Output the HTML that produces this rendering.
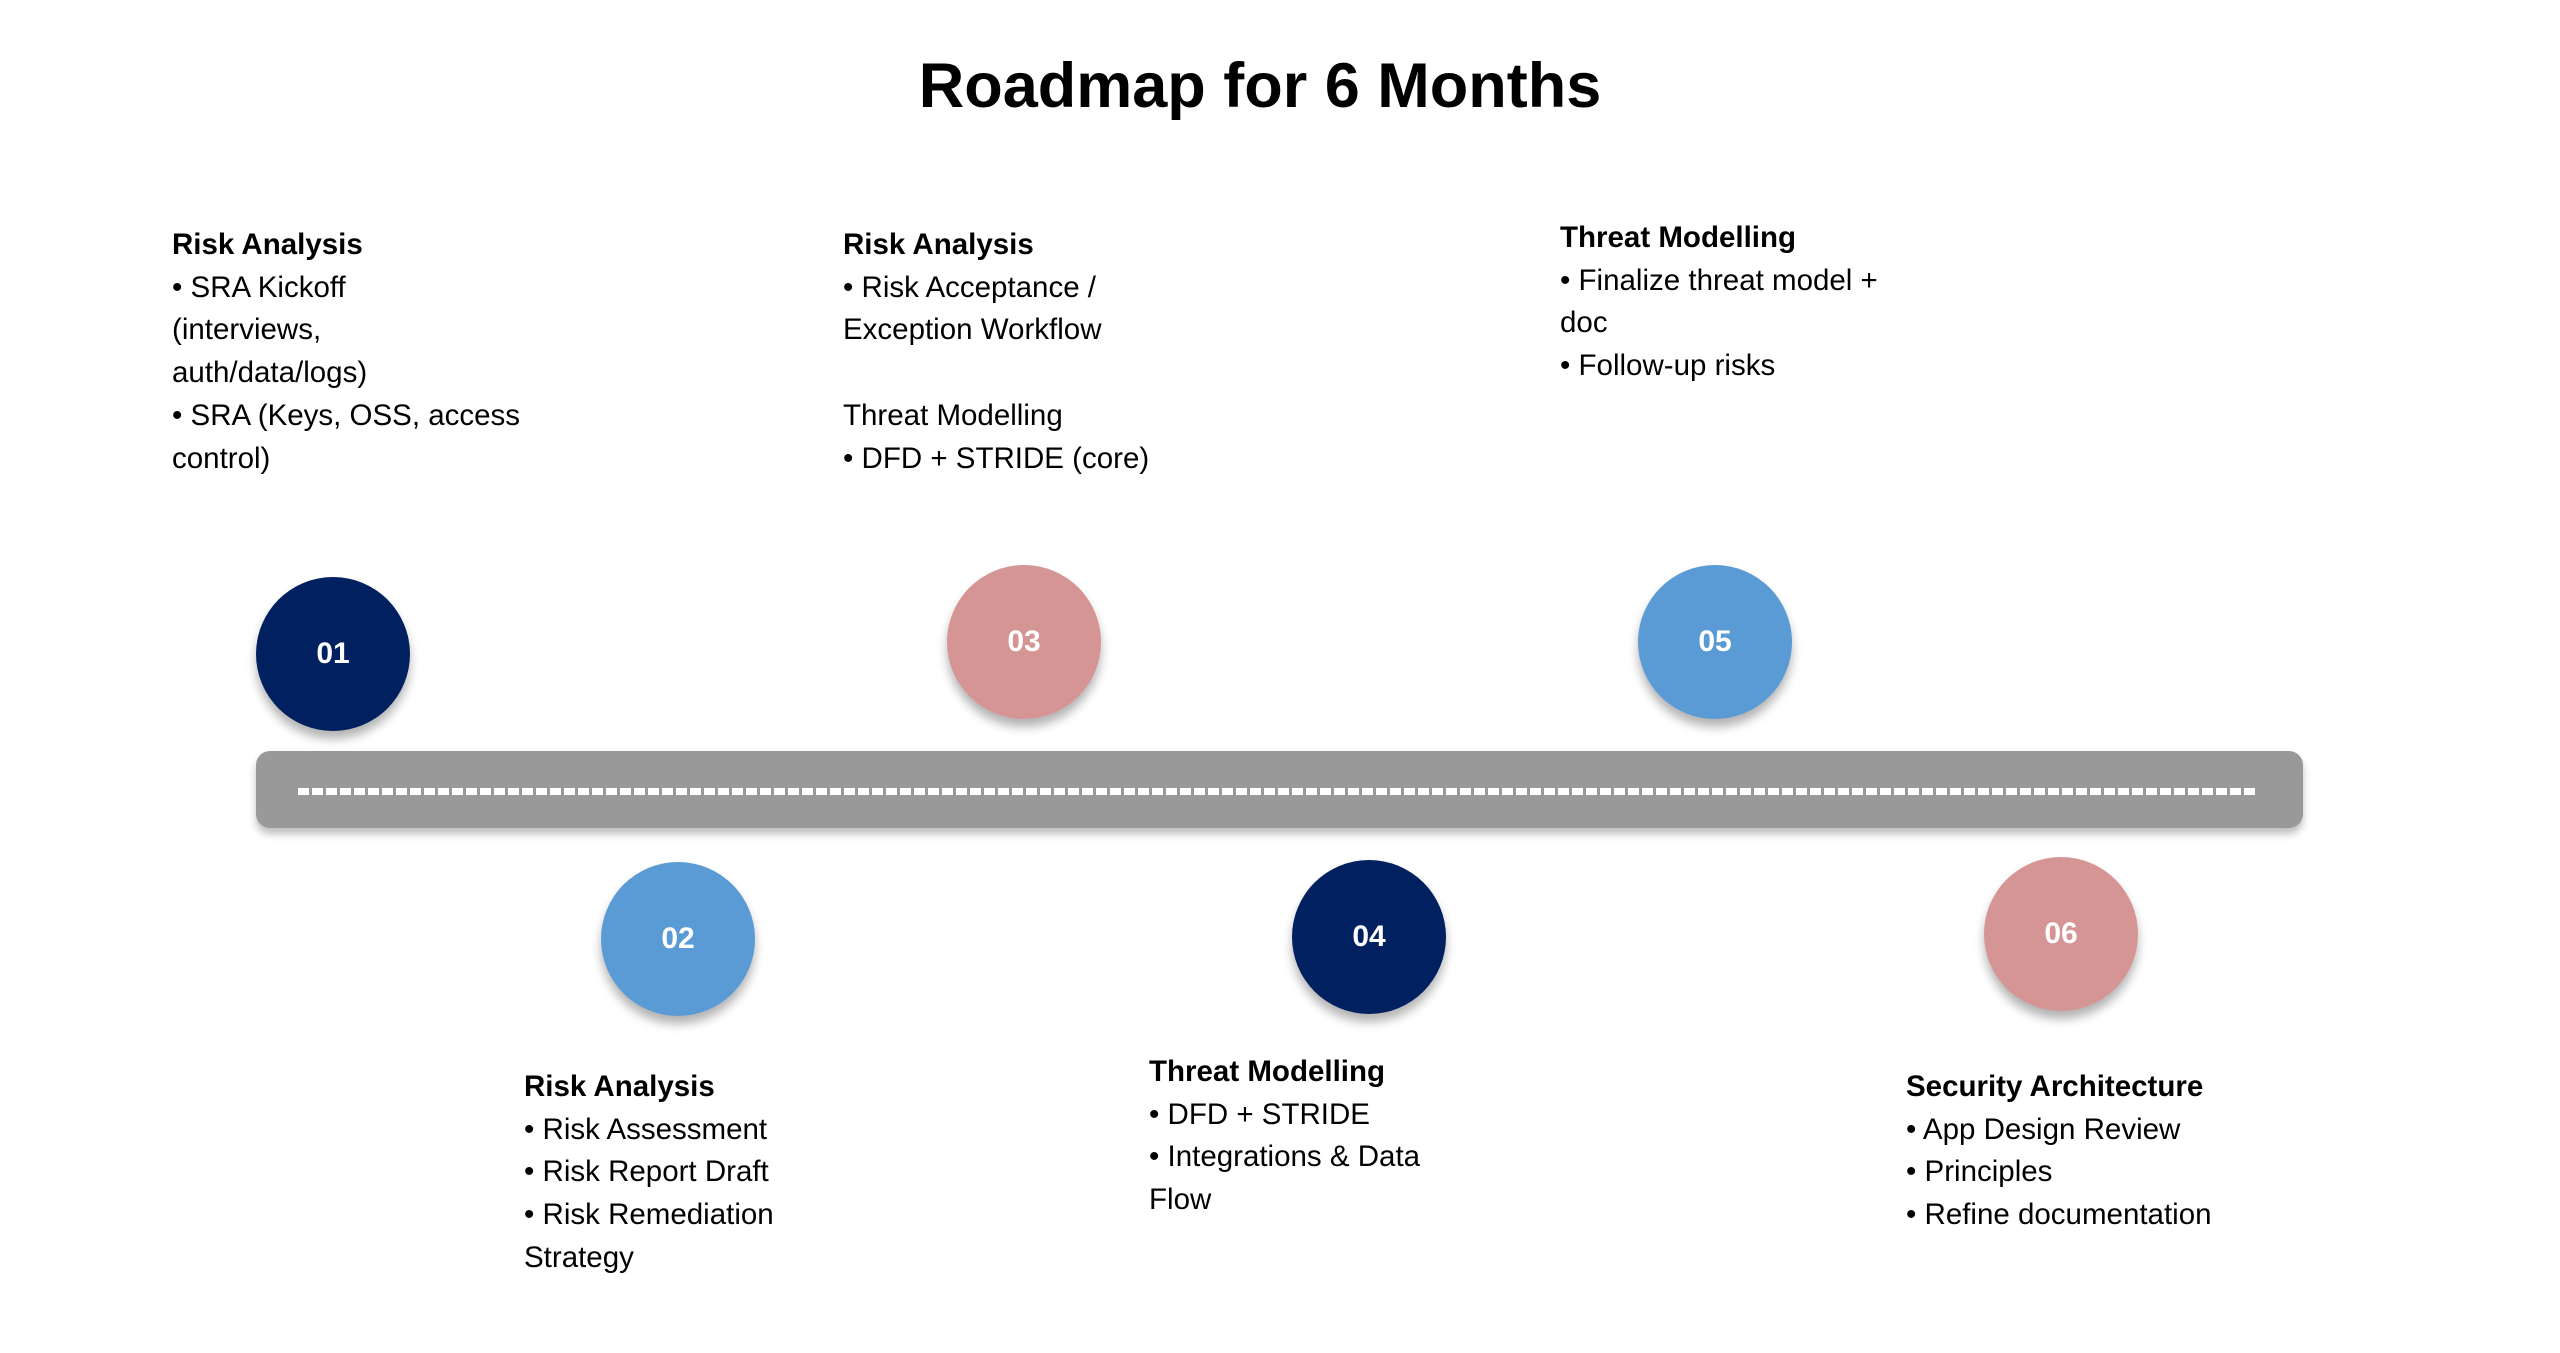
<!DOCTYPE html>
<html><head><meta charset="utf-8">
<style>
body{margin:0;width:2560px;height:1353px;background:#fff;position:relative;overflow:hidden;font-family:"Liberation Sans",sans-serif;color:#000}
.t{position:absolute;font-size:29.5px;line-height:42.7px;white-space:nowrap}
.t b{font-weight:bold}
.c{position:absolute;width:154px;height:154px;border-radius:50%;color:#fff;font-weight:bold;font-size:30px;display:flex;align-items:center;justify-content:center;box-shadow:0 8px 10px rgba(0,0,0,0.3)}
.n{background:#002060}.p{background:#D69595}.b{background:#5B9BD5}
</style></head><body>
<div style="position:absolute;left:-20px;width:2560px;top:50px;text-align:center;font-weight:bold;font-size:63px;">Roadmap for 6 Months</div>

<div class="t" style="left:172px;top:224px"><b>Risk Analysis</b><br>• SRA Kickoff<br>(interviews,<br>auth/data/logs)<br>• SRA (Keys, OSS, access<br>control)</div>
<div class="t" style="left:843px;top:224px"><b>Risk Analysis</b><br>• Risk Acceptance /<br>Exception Workflow<br><br>Threat Modelling<br>• DFD + STRIDE (core)</div>
<div class="t" style="left:1560px;top:217px"><b>Threat Modelling</b><br>• Finalize threat model +<br>doc<br>• Follow-up risks</div>
<div class="t" style="left:524px;top:1066px"><b>Risk Analysis</b><br>• Risk Assessment<br>• Risk Report Draft<br>• Risk Remediation<br>Strategy</div>
<div class="t" style="left:1149px;top:1051px"><b>Threat Modelling</b><br>• DFD + STRIDE<br>• Integrations &amp; Data<br>Flow</div>
<div class="t" style="left:1906px;top:1066px"><b>Security Architecture</b><br>• App Design Review<br>• Principles<br>• Refine documentation</div>

<div style="position:absolute;left:256px;top:751px;width:2047px;height:77px;background:#999;border-radius:14px;box-shadow:0 6px 8px rgba(0,0,0,0.25)"></div>
<div style="position:absolute;left:298px;top:788px;width:1960px;height:7px;background:repeating-linear-gradient(90deg,#fff 0 11px,transparent 11px 14px)"></div>

<div class="c n" style="left:256px;top:577px">01</div>
<div class="c p" style="left:947px;top:565px">03</div>
<div class="c b" style="left:1638px;top:565px">05</div>
<div class="c b" style="left:601px;top:862px">02</div>
<div class="c n" style="left:1292px;top:860px">04</div>
<div class="c p" style="left:1984px;top:857px">06</div>
</body></html>
